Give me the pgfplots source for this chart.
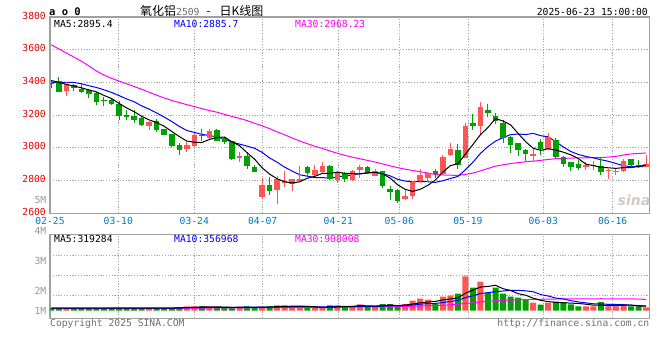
\documentclass[border=0pt]{standalone}
\usepackage{fontspec}
\usepackage{pgfplots}
\usepackage{pgfplotstable}
\pgfplotsset{compat=1.18}
\newfontfamily\mono{DejaVu Sans Mono}
\newfontfamily\cjk{Noto Sans CJK SC}
\newfontfamily\sans{DejaVu Sans}
\definecolor{cred}{RGB}{255,85,85}
\definecolor{cgreen}{RGB}{0,160,0}
\definecolor{cblue}{RGB}{0,0,255}
\definecolor{cmag}{RGB}{255,0,255}
\definecolor{ctickred}{RGB}{230,0,0}
\definecolor{cdate}{RGB}{0,120,200}
\definecolor{cframe}{RGB}{160,160,160}
\definecolor{cgrid}{RGB}{170,170,170}
\definecolor{cgreyt}{RGB}{110,110,110}
\definecolor{cvlab}{RGB}{150,150,150}

% x o h l c  (red = close above open)
\pgfplotstableread{
x o h l c
2 3349 3400 3318 3392
13 3135 3165 3108 3159
18 2992 3037 2974 3020
19 3010 3088 3004 3076
21 3061 3116 3055 3106
25 2937 2974 2916 2953
28 2700 2816 2690 2770
30 2745 2831 2659 2810
31 2784 2861 2763 2800
32 2778 2810 2735 2810
33 2800 2888 2795 2808
35 2837 2898 2831 2867
36 2855 2912 2847 2888
38 2806 2857 2786 2847
40 2802 2867 2798 2857
41 2867 2898 2814 2880
43 2831 2871 2831 2859
47 2690 2741 2682 2706
48 2706 2798 2690 2794
49 2798 2869 2788 2833
50 2814 2849 2792 2845
52 2839 2955 2833 2947
53 2957 3029 2951 2992
55 2937 3149 2937 3135
57 3135 3278 3080 3247
64 2949 2994 2922 2965
66 2990 3088 2986 3067
71 2882 2912 2867 2898
72 2888 2918 2863 2898
74 2857 2871 2812 2867
75 2853 2878 2837 2861
76 2857 2929 2851 2922
79 2884 2955 2884 2904
}\redc

\pgfplotstableread{
x o h l c
0 3398 3412 3368 3394
1 3406 3433 3339 3343
3 3384 3390 3347 3363
4 3359 3392 3335 3343
5 3351 3359 3302 3331
6 3335 3339 3261 3282
7 3290 3308 3257 3284
8 3292 3298 3263 3269
9 3267 3284 3172 3196
10 3200 3229 3172 3190
11 3194 3229 3155 3169
12 3180 3186 3135 3141
14 3163 3176 3098 3112
15 3114 3118 3078 3080
16 3082 3086 3006 3010
17 3020 3031 2955 2986
20 3078 3116 3041 3070
22 3112 3118 3039 3045
23 3059 3067 3022 3035
24 3039 3041 2923 2929
26 2949 2974 2872 2888
27 2880 2898 2851 2851
29 2776 2823 2710 2735
34 2880 2892 2831 2845
37 2888 2898 2806 2810
39 2847 2853 2790 2810
42 2880 2888 2839 2845
44 2861 2861 2753 2765
45 2749 2765 2680 2729
46 2741 2749 2663 2674
51 2859 2873 2818 2839
54 2986 3022 2870 2894
56 3153 3204 3110 3135
58 3231 3271 3186 3214
59 3196 3212 3145 3165
60 3151 3171 3029 3059
61 3067 3074 2971 3018
62 3027 3031 2949 2986
63 2986 2994 2918 2961
65 3035 3055 2959 2994
67 3047 3061 2929 2943
68 2943 2949 2884 2902
69 2912 2912 2857 2884
70 2904 2924 2867 2878
73 2892 2943 2833 2851
77 2929 2929 2878 2898
78 2895 2925 2878 2890
}\greenc

\pgfplotstableread{
x ma5 ma10 ma30
0 3412 3400 3630
1 3400 3400 3605
2 3388 3400 3580
3 3378 3400 3555
4 3367.0 3392 3530
5 3354.4 3380 3500
6 3342.2 3369 3470
7 3320.6 3355 3445
8 3301.8 3339 3425
9 3272.4 3319.7 3408
10 3244.2 3299.3 3392
11 3221.6 3281.9 3375
12 3193.0 3256.8 3358
13 3171.0 3236.4 3340
14 3154.2 3213.3 3322
15 3132.2 3188.2 3305
16 3100.4 3161.0 3290
17 3069.4 3131.2 3277
18 3041.6 3106.3 3264
19 3034.4 3094.3 3252
20 3032.4 3082.3 3240
21 3051.6 3076.0 3228
22 3063.4 3066.4 3218
23 3066.4 3054.0 3205
24 3037.0 3035.7 3192
25 3013.6 3023.0 3180
26 2970.0 3010.8 3167
27 2931.2 2997.3 3150
28 2878.2 2972.3 3135
29 2839.4 2938.2 3117.4
30 2810.8 2912.2 3097.9
31 2793.2 2881.6 3079.8
32 2785.0 2858.1 3060.4
33 2792.6 2835.4 3041.9
34 2814.6 2827.0 3025.3
35 2826.0 2818.4 3009.9
36 2843.6 2818.4 2996.7
37 2843.6 2814.3 2980.9
38 2851.4 2822.0 2966.9
39 2844.4 2829.5 2954.0
40 2842.4 2834.2 2942.9
41 2840.8 2842.2 2933.3
42 2847.8 2845.7 2923.4
43 2850.2 2850.8 2913.4
44 2841.2 2842.8 2901.8
45 2815.6 2829.0 2890.1
46 2774.4 2807.6 2878.9
47 2746.6 2797.2 2869.6
48 2733.6 2791.9 2862.1
49 2747.2 2794.2 2854.0
50 2770.4 2793.0 2846.5
51 2803.4 2788.9 2837.6
52 2851.6 2799.1 2834.3
53 2891.2 2812.4 2832.9
54 2903.4 2825.3 2831.7
55 2961.4 2865.9 2837.8
56 3020.6 2912.0 2846.0
57 3080.6 2966.1 2859.2
58 3125.0 3008.1 2874.0
59 3179.2 3041.3 2888.3
60 3164.0 3062.7 2896.6
61 3140.6 3080.6 2903.9
62 3088.4 3084.5 2909.8
63 3037.8 3081.4 2914.9
64 2997.8 3088.5 2918.9
65 2984.8 3074.4 2923.1
66 2994.6 3067.6 2929.1
67 2986.0 3037.2 2933.5
68 2973.8 3005.8 2935.3
69 2957.6 2977.7 2937.7
70 2934.4 2959.6 2938.4
71 2900.6 2947.6 2939.0
72 2891.6 2938.8 2940.8
73 2881.4 2927.6 2940.5
74 2878.0 2917.8 2943.9
75 2874.6 2904.5 2948.3
76 2879.4 2890.0 2956.5
77 2879.4 2885.5 2962.9
78 2887.2 2884.3 2966.1
79 2894.6 2886.3 2968.4
}\matab

% volume, thousands of lots
\pgfplotstableread{
x v
2 200
13 200
18 320
19 320
21 250
25 250
28 250
30 400
31 400
32 320
33 320
35 200
36 200
38 400
40 320
41 470
43 320
47 500
48 750
49 900
50 825
52 1050
53 1125
55 2570
57 2175
64 600
66 600
71 320
72 320
74 320
75 320
76 470
79 250
}\redv

\pgfplotstableread{
x v
0 200
1 200
3 200
4 200
5 200
6 200
7 200
8 190
9 200
10 200
11 200
12 200
14 200
15 200
16 200
17 250
20 320
22 250
23 200
24 250
26 320
27 250
29 320
34 200
37 400
39 320
42 320
44 500
45 500
46 280
51 500
54 1275
56 1725
58 1350
59 1725
60 1275
61 1050
62 975
63 790
65 450
67 675
68 650
69 470
70 320
73 650
77 320
78 320
}\greenv

\pgfplotstableread{
x m5 m10 m30
0 200 200 180
1 200 200 nan
2 200 200 nan
3 200 200 nan
4 200 200 nan
5 200 200 nan
6 200 200 nan
7 200 200 nan
8 198 200 nan
9 198 199 nan
10 198 199 185
11 198 199 nan
12 198 198 nan
13 200 199 nan
14 200 199 nan
15 200 199 nan
16 200 199 nan
17 210 204 nan
18 234 217 nan
19 258 229 nan
20 282 241 200
21 292 246 nan
22 292 251 nan
23 268 251 nan
24 254 256 nan
25 240 261 nan
26 254 273 nan
27 254 273 nan
28 264 266 228
29 278 266 231
30 308 274 238
31 324 289 245
32 338 296 248
33 352 308 253
34 328 303 253
35 288 298 253
36 248 286 253
37 264 301 259
38 280 316 266
39 304 316 270
40 328 308 274
41 382 315 283
42 366 315 287
43 350 315 291
44 386 345 301
45 422 375 311
46 384 383 314
47 420 393 322
48 506 428 337
49 586 486 356
50 651 537 373
51 695 540 381
52 805 613 408
53 880 693 439
54 955 771 473
55 1304 978 550
56 1549 1122 597
57 1774 1290 661
58 1819 1350 698
59 1909 1432 745
60 1650 1477 774
61 1515 1532 796
62 1275 1525 817
63 1163 1491 833
64 938 1424 846
65 773 1212 855
66 683 1099 868
67 623 949 877
68 595 879 886
69 569 754 891
70 543 658 891
71 487 585 886
72 416 520 886
73 416 506 897
74 386 478 891
75 386 465 885
76 416 452 891
77 416 416 885
78 350 383 871
79 336 361 849
}\vmatab

\pgfplotsset{
  skstyle/.style={
    scale only axis, width=599.5bp,
    xmin=-0.17, xmax=79.45,
    xtick={-0.17,8.90,18.99,28.08,38.12,46.22,55.34,65.34,74.56},
    grid=major,
    grid style={draw=cgrid, line width=0.8bp, dash pattern=on 1.2bp off 1.6bp},
    axis line style={draw=cframe, line width=1.3bp},
    major tick length=0pt,
    clip=true,
  },
  candle/.style={draw=none, mark=none, forget plot,
    error bars/.cd, y dir=minus, y explicit, error mark=none,
    error bar style={draw=#1}},
}

\newcommand{\tf}{\mono\fontsize{9.7bp}{10bp}\selectfont}

\begin{document}
\begin{tikzpicture}
\useasboundingbox (0,0) rectangle (660bp,360bp);

% ---------- price chart ----------
\begin{axis}[skstyle,
  at={(50bp,146.7bp)}, anchor=south west, height=196.3bp,
  ymin=2600, ymax=3800,
  ytick={2600,2800,3000,3200,3400,3600,3800},
  yticklabels={2600,2800,3000,3200,3400,3600,3800},
  xticklabels={02-25,03-10,03-24,04-07,04-21,05-06,05-19,06-03,06-16},
  xticklabel style={font=\tf, text=cdate, inner sep=0pt, anchor=north, yshift=-3.8bp},
  yticklabel style={font=\tf, text=ctickred, inner sep=0pt, anchor=east, xshift=-4bp, yshift=1.5bp},
]
% MA lines
\addplot[cmag, line width=1bp, mark=none] table[x=x, y=ma30] \matab;
\addplot[cblue, line width=1bp, mark=none] table[x=x, y=ma10] \matab;
% wicks
\addplot[candle=cred, error bar style={line width=1bp}]
  table[x=x, y=h, y error minus expr=\thisrow{h}-\thisrow{l}] \redc;
\addplot[candle=cgreen, error bar style={line width=1bp}]
  table[x=x, y=h, y error minus expr=\thisrow{h}-\thisrow{l}] \greenc;
% bodies
\addplot[candle=cred, error bar style={line width=5.5bp}]
  table[x=x, y=c, y error minus expr=\thisrow{c}-\thisrow{o}] \redc;
\addplot[candle=cgreen, error bar style={line width=5.5bp}]
  table[x=x, y=o, y error minus expr=\thisrow{o}-\thisrow{c}] \greenc;
\addplot[black, line width=1bp, mark=none] table[x=x, y=ma5] \matab;
\end{axis}

% ---------- volume chart ----------
\begin{axis}[skstyle,
  at={(50bp,41.7bp)}, anchor=south west, height=83.6bp,
  ymin=-570, ymax=5700,
  ytick={1125,2678,4178}, yticklabels={},
  xticklabels={},
  unbounded coords=discard,
]
\addplot[ybar, bar width=6bp, bar shift=0pt, fill=cred, draw=none] table[x=x, y=v] \redv;
\addplot[ybar, bar width=6bp, bar shift=0pt, fill=cgreen, draw=none] table[x=x, y=v] \greenv;
\addplot[cmag, line width=1bp, mark=none] table[x=x, y=m30] \vmatab;
\addplot[cblue, line width=1bp, mark=none] table[x=x, y=m10] \vmatab;
\addplot[black, line width=1bp, mark=none] table[x=x, y=m5] \vmatab;
\end{axis}

% ---------- texts ----------
\node[anchor=west, inner sep=0pt, font=\mono\bfseries\fontsize{10.5bp}{11bp}\selectfont] at (49bp,348bp) {a o 0};
\node[anchor=west, inner sep=0pt] at (140bp,349bp)
  {{\cjk\fontsize{12bp}{13bp}\selectfont 氧化铝}{\tf\color{cgreyt}2509}\hspace{7bp}{\cjk\fontsize{12bp}{13bp}\selectfont -}\hspace{9bp}{\cjk\fontsize{12bp}{13bp}\selectfont 日K线图}};
\node[anchor=east, inner sep=0pt, font=\tf] at (648bp,348bp) {2025-06-23 15:00:00};

\node[anchor=west, inner sep=0pt, font=\tf] at (54bp,336bp) {MA5:2895.4};
\node[anchor=west, inner sep=0pt, font=\tf, text=cblue] at (174bp,336bp) {MA10:2885.7};
\node[anchor=west, inner sep=0pt, font=\tf, text=cmag] at (295bp,336bp) {MA30:2968.23};

\node[anchor=west, inner sep=0pt, font=\tf] at (54bp,121.2bp) {MA5:319284};
\node[anchor=west, inner sep=0pt, font=\tf, text=cblue] at (174bp,121.2bp) {MA10:356968};
\node[anchor=west, inner sep=0pt, font=\tf, text=cmag] at (295bp,121.2bp) {MA30:908008};

\node[anchor=east, inner sep=0pt, font=\tf, text=cvlab] at (46.5bp,160bp) {5M};
\node[anchor=east, inner sep=0pt, font=\tf, text=cvlab] at (46.5bp,129bp) {4M};
\node[anchor=east, inner sep=0pt, font=\tf, text=cvlab] at (46.5bp,99.3bp) {3M};
\node[anchor=east, inner sep=0pt, font=\tf, text=cvlab] at (46.5bp,69.3bp) {2M};
\node[anchor=east, inner sep=0pt, font=\tf, text=cvlab] at (46.5bp,49.3bp) {1M};

\node[anchor=west, inner sep=0pt, font=\tf, text=cgreyt] at (50bp,36.5bp) {Copyright 2025 SINA.COM};
\node[anchor=east, inner sep=0pt, font=\tf, text=cgreyt] at (649.5bp,36.5bp) {http://finance.sina.com.cn};

\node[inner sep=0pt, font=\sans\bfseries\itshape\fontsize{14bp}{14bp}\selectfont, text={rgb,255:red,210;green,200;blue,200}] at (634bp,160bp) {sina};
\end{tikzpicture}
\end{document}
